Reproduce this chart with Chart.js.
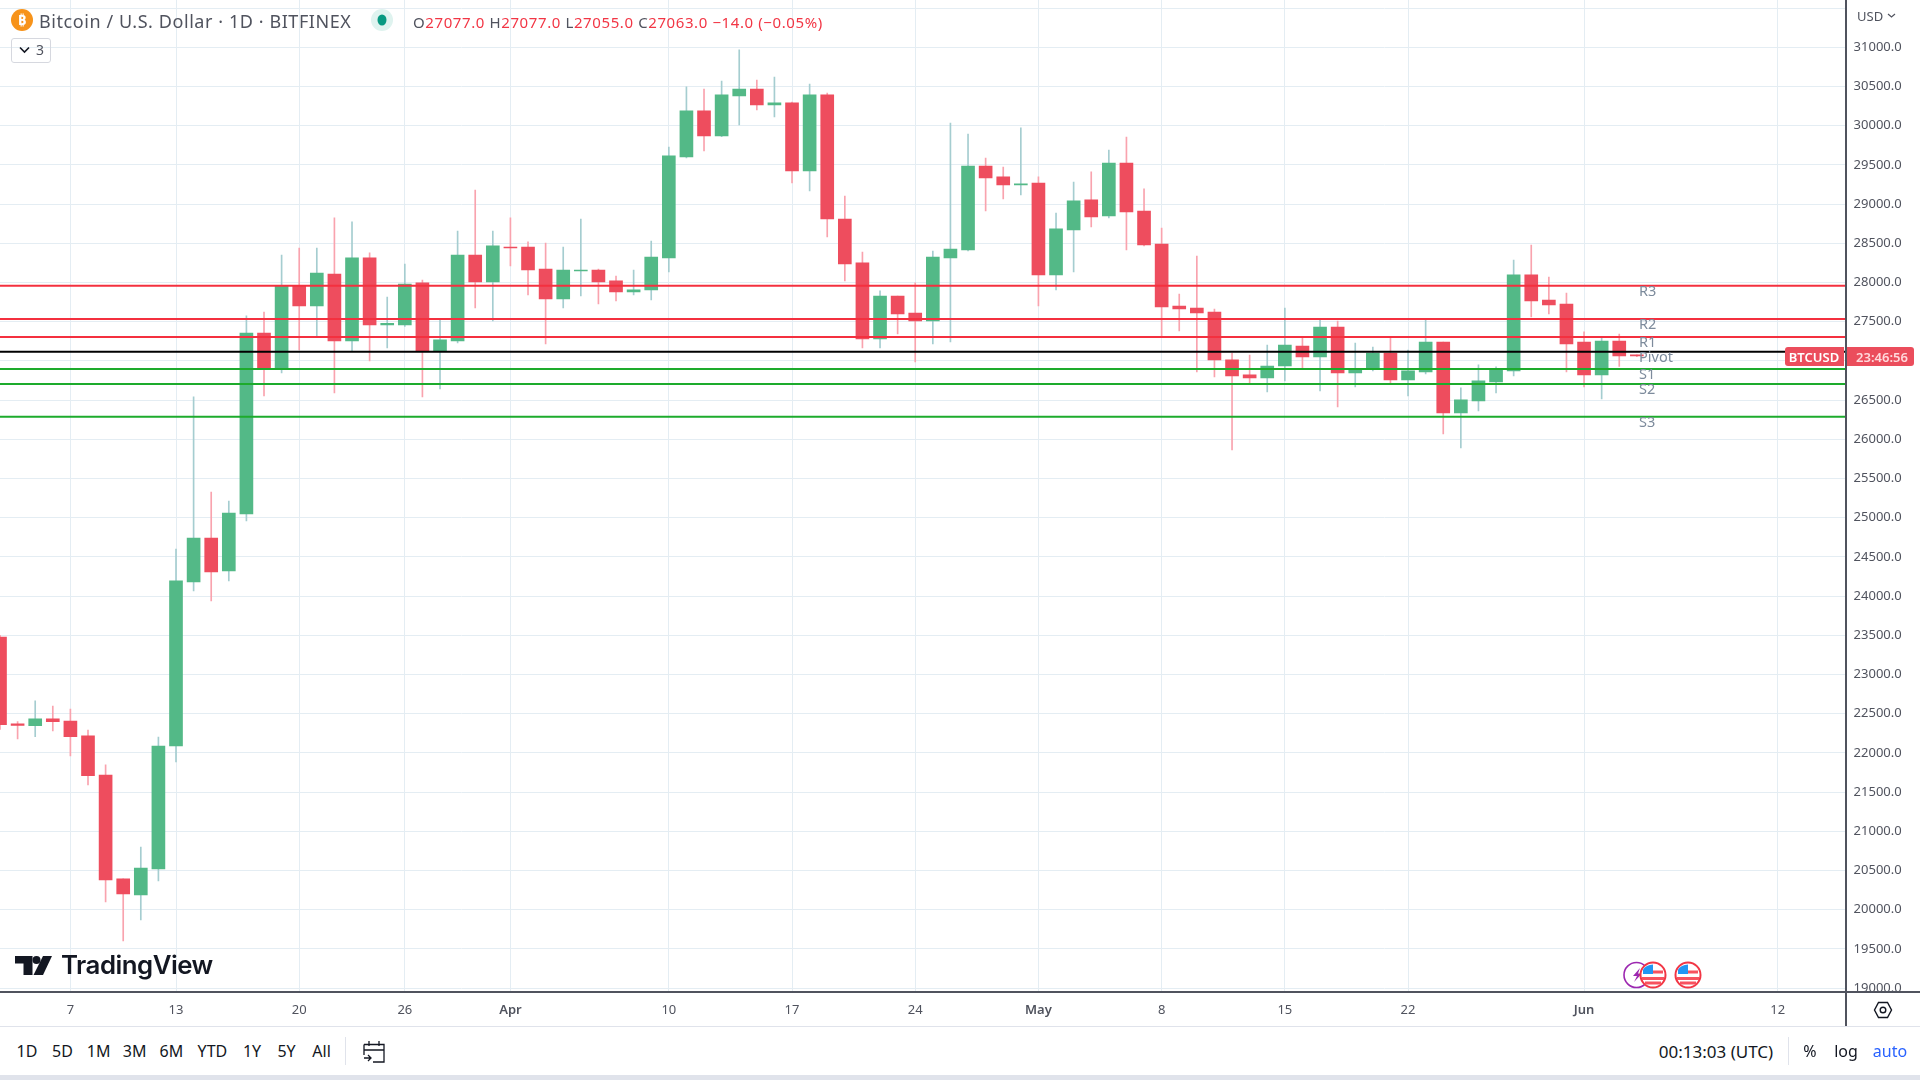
<!DOCTYPE html>
<html>
<head>
<meta charset="utf-8">
<title>Bitcoin / U.S. Dollar</title>
<script src="https://cdn.jsdelivr.net/npm/chart.js@4"></script>
<style>
    html, body { margin: 0; padding: 0; background: #fff; overflow: hidden; }
    body { width: 1920px; height: 1080px; position: relative; font-family: "Noto Sans", sans-serif; }
    #chart { position: absolute; left: 0; top: 0; }
    .t { position: absolute; white-space: nowrap; line-height: 1; }
    .c { transform: translate(-50%, -50%); }
    .v { transform: translateY(-50%); }
    .box { position: absolute; }
    svg { position: absolute; overflow: visible; }
    .red { color: #f23645; }
    .tool { font-size: 16px; color: #131722; top: 1051px; }
</style>
</head>
<body>
<canvas id="chart" width="1920" height="1026"></canvas>

<!-- header -->
<svg style="left:11px;top:9px" width="22" height="22" viewBox="0 0 22 22">
    <circle cx="11" cy="11" r="11" fill="#f7931a"/>
    <text x="11" y="16" text-anchor="middle" font-size="15" font-weight="700" fill="#fff" font-family="Noto Sans">₿</text>
</svg>
<span class="t v" style="left:39px;top:21px;font-size:18px;letter-spacing:0.57px;color:#50535e">Bitcoin / U.S. Dollar · 1D · BITFINEX</span>
<svg style="left:371px;top:9px" width="22" height="22">
    <circle cx="11" cy="11" r="11" fill="#dff3ef"/>
    <ellipse cx="11" cy="11" rx="4.5" ry="5.5" fill="#089981"/>
</svg>
<span class="t v" style="left:413px;top:22px;font-size:15px;letter-spacing:0.6px;color:#50535e">O<span class="red">27077.0</span> H<span class="red">27077.0</span> L<span class="red">27055.0</span> C<span class="red">27063.0 −14.0 (−0.05%)</span></span>
<div class="box" style="left:11px;top:38px;width:38px;height:23px;border:1px solid #d6d8df;border-radius:3px"></div>
<svg style="left:19px;top:46px" width="12" height="8"><path d="M1 1.5L5.5 6L10 1.5" fill="none" stroke="#131722" stroke-width="1.6"/></svg>
<span class="t c" style="left:40px;top:50px;font-size:14px;color:#50535e">3</span>

<!-- price axis header and last price labels -->
<span class="t v" style="left:1857px;top:16px;font-size:13px;color:#50535e">USD</span>
<svg style="left:1887px;top:13px" width="9" height="6"><path d="M1 1L4.5 4L8 1" fill="none" stroke="#50535e" stroke-width="1.2"/></svg>
<div class="box" style="left:1785px;top:347px;width:59px;height:19px;background:#eb4d5c;border-radius:3px 0 0 3px"></div>
<span class="t c" style="left:1814px;top:357px;font-size:13px;font-weight:600;color:#fff">BTCUSD</span>
<div class="box" style="left:1846px;top:347px;width:68px;height:19px;background:#eb4d5c;border-radius:0 3px 3px 0"></div>
<span class="t c" style="left:1882px;top:357px;font-size:13px;font-weight:600;color:#ffd9dc">23:46:56</span>

<!-- watermark logo -->
<svg style="left:15px;top:956px" width="37" height="19" viewBox="0 0 37 19">
    <path d="M0 0H17.5V19H8.5V7.5H0Z" fill="#131722"/>
    <circle cx="21.5" cy="4" r="4" fill="#131722"/>
    <path d="M28 0H37L28 19H18.5Z" fill="#131722"/>
</svg>
<span class="t v" style="left:61px;top:965px;font-family:Inter;font-size:25.8px;font-weight:600;letter-spacing:-0.5px;color:#131722">TradingView</span>

<!-- event markers -->
<svg style="left:1622px;top:961px" width="80" height="28">
    <circle cx="14.5" cy="14" r="12.5" fill="#fff" stroke="#9c27b0" stroke-width="1.6"/>
    <path d="M18 7L11 15H15L12 21L20 12.5H16Z" fill="#9c27b0"/>
    <g id="flag">
        <circle cx="31" cy="14" r="12.5" fill="#fff" stroke="#f23645" stroke-width="2"/>
        <path d="M21 11H41M20 17.5H42M23 22H39" stroke="#f7525f" stroke-width="3" fill="none"/>
        <path d="M21 13V8.5Q24 4 31 3.5V13Z" fill="#2196f3"/>
    </g>
    <g>
        <circle cx="66" cy="14" r="12.5" fill="#fff" stroke="#f23645" stroke-width="2"/>
        <path d="M56 11H76M55 17.5H77M58 22H74" stroke="#f7525f" stroke-width="3" fill="none"/>
        <path d="M56 13V8.5Q59 4 66 3.5V13Z" fill="#2196f3"/>
    </g>
</svg>

<!-- axis frame pieces the scales do not draw -->
<div class="box" style="left:1846px;top:993px;width:74px;height:33px;background:#fff"></div>
<div class="box" style="left:0;top:991px;width:1920px;height:1.5px;background:#50535e"></div>
<div class="box" style="left:1845px;top:0;width:1.5px;height:1026px;background:#50535e"></div>
<svg style="left:1873px;top:1001px" width="20" height="18">
    <path d="M5.5 1.5H14.5L18.5 9L14.5 16.5H5.5L1.5 9Z" fill="none" stroke="#131722" stroke-width="1.4"/>
    <circle cx="10" cy="9" r="2.8" fill="none" stroke="#131722" stroke-width="1.4"/>
</svg>

<!-- bottom toolbar -->
<div class="box" style="left:0;top:1026px;width:1920px;height:1px;background:#e0e3eb"></div>
<div class="box" style="left:0;top:1075px;width:1920px;height:5px;background:#e0e3eb"></div>
<span class="t c tool" style="left:27px">1D</span>
<span class="t c tool" style="left:62.5px">5D</span>
<span class="t c tool" style="left:98.6px">1M</span>
<span class="t c tool" style="left:134.7px">3M</span>
<span class="t c tool" style="left:171.4px">6M</span>
<span class="t c tool" style="left:212.4px">YTD</span>
<span class="t c tool" style="left:252px">1Y</span>
<span class="t c tool" style="left:286.5px">5Y</span>
<span class="t c tool" style="left:321.6px">All</span>
<div class="box" style="left:345px;top:1037px;width:1px;height:28px;background:#e0e3eb"></div>
<svg style="left:362px;top:1038px" width="24" height="26">
    <path d="M2 6.5H22V24H11M2 17V6.5M2 12H22M7 3V8M17 3V8M2 20H9M6 17L9 20L6 23" fill="none" stroke="#131722" stroke-width="1.3"/>
</svg>
<span class="t c tool" style="left:1716px;font-size:17px">00:13:03 (UTC)</span>
<div class="box" style="left:1788px;top:1037px;width:1px;height:28px;background:#e0e3eb"></div>
<span class="t c tool" style="left:1810px">%</span>
<span class="t c tool" style="left:1846px">log</span>
<span class="t c tool" style="left:1890px;color:#2962ff">auto</span>

<script>
// Daily candles, Bitcoin / U.S. Dollar
const categories = [
    'Mar 3', 'Mar 4', 'Mar 5', 'Mar 6', 'Mar 7', 'Mar 8', 'Mar 9', 'Mar 10', 'Mar 11', 'Mar 12',
    'Mar 13', 'Mar 14', 'Mar 15', 'Mar 16', 'Mar 17', 'Mar 18', 'Mar 19', 'Mar 20', 'Mar 21', 'Mar 22',
    'Mar 23', 'Mar 24', 'Mar 25', 'Mar 26', 'Mar 27', 'Mar 28', 'Mar 29', 'Mar 30', 'Mar 31', 'Apr 1',
    'Apr 2', 'Apr 3', 'Apr 4', 'Apr 5', 'Apr 6', 'Apr 7', 'Apr 8', 'Apr 9', 'Apr 10', 'Apr 11',
    'Apr 12', 'Apr 13', 'Apr 14', 'Apr 15', 'Apr 16', 'Apr 17', 'Apr 18', 'Apr 19', 'Apr 20', 'Apr 21',
    'Apr 22', 'Apr 23', 'Apr 24', 'Apr 25', 'Apr 26', 'Apr 27', 'Apr 28', 'Apr 29', 'Apr 30', 'May 1',
    'May 2', 'May 3', 'May 4', 'May 5', 'May 6', 'May 7', 'May 8', 'May 9', 'May 10', 'May 11',
    'May 12', 'May 13', 'May 14', 'May 15', 'May 16', 'May 17', 'May 18', 'May 19', 'May 20', 'May 21',
    'May 22', 'May 23', 'May 24', 'May 25', 'May 26', 'May 27', 'May 28', 'May 29', 'May 30', 'May 31',
    'Jun 1', 'Jun 2', 'Jun 3', 'Jun 4'
];
const opens = [
    23478, 22370, 22346, 22435, 22407, 22216, 21718, 20392, 20188, 20519,
    22090, 24180, 24741, 24320, 25047, 27356, 26909, 27955, 27700, 28108,
    27254, 28313, 27458, 27458, 27994, 27126, 27254, 28351, 28007, 28453,
    28453, 28172, 27789, 28146, 28159, 28020, 27879, 27904, 28313, 29601,
    30188, 29869, 30379, 30468, 30264, 30290, 29422, 30392, 28810, 28249,
    27279, 27828, 27611, 27509, 28313, 28414, 29486, 29346, 29244, 29269,
    28096, 28670, 29053, 28848, 29524, 28912, 28491, 27700, 27675, 27624,
    27012, 26821, 26783, 26935, 27190, 27049, 27432, 26846, 26897, 27101,
    26756, 26859, 27241, 26335, 26489, 26731, 26872, 28096, 27777, 27726,
    27241, 26821, 27254, 27077
];
const highs = [
    23500, 22400, 22665, 22598, 22560, 22292, 21846, 20392, 20800, 22203,
    24601, 26540, 25328, 25213, 27573, 27624, 28351, 28440, 28440, 28823,
    28772, 28377, 27815, 28236, 28032, 27522, 28657, 29180, 28657, 28823,
    28517, 28504, 28453, 28810, 28172, 28083, 28159, 28529, 29728, 30494,
    30468, 30570, 30966, 30583, 30621, 30300, 30532, 30417, 29103, 28389,
    27892, 27828, 27994, 28402, 30034, 29894, 29588, 29473, 29971, 29346,
    28886, 29282, 29410, 29690, 29856, 29193, 28695, 27853, 28338, 27662,
    27101, 27075, 27203, 27675, 27292, 27522, 27509, 27228, 27177, 27292,
    27139, 27522, 27241, 26655, 26948, 26923, 28287, 28478, 28070, 27866,
    27369, 27292, 27343, 27077
];
const lows = [
    22300, 22177, 22207, 22280, 21960, 21590, 20099, 19601, 19869, 20366,
    21884, 24065, 23938, 24193, 24958, 26552, 26846, 27139, 27318, 26590,
    27126, 26998, 27165, 27440, 26540, 26641, 27230, 27675, 27509, 28210,
    27841, 27216, 27675, 27828, 27726, 27764, 27841, 27777, 28134, 29590,
    29677, 29860, 30009, 30200, 30111, 29269, 29167, 28580, 28019, 27165,
    27165, 27343, 26986, 27216, 27242, 28402, 28912, 29065, 29116, 27700,
    27904, 28134, 28708, 28825, 28414, 28465, 27318, 27381, 26858, 26795,
    25864, 26705, 26603, 26744, 26909, 26616, 26412, 26667, 26872, 26718,
    26552, 26834, 26068, 25890, 26361, 26590, 26808, 27560, 27598, 26859,
    26667, 26514, 26928, 27055
];
const closes = [
    22360, 22350, 22435, 22398, 22207, 21709, 20379, 20200, 20532, 22088,
    24193, 24741, 24307, 25060, 27356, 26909, 27955, 27700, 28121, 27254,
    28313, 27458, 27480, 27981, 27126, 27267, 28351, 28007, 28466, 28440,
    28159, 27789, 28159, 28159, 28007, 27879, 27905, 28325, 29614, 30188,
    29869, 30392, 30468, 30264, 30290, 29422, 30392, 28810, 28236, 27279,
    27828, 27598, 27509, 28325, 28427, 29486, 29333, 29244, 29257, 28096,
    28683, 29040, 28835, 29524, 28900, 28478, 27688, 27662, 27611, 27012,
    26808, 26783, 26935, 27203, 27049, 27432, 26846, 26897, 27101, 26756,
    26872, 27241, 26335, 26502, 26744, 26897, 28096, 27764, 27713, 27216,
    26821, 27254, 27062, 27063
];

// Pivot point levels
const pivotNames = ['R3', 'R2', 'R1', 'Pivot', 'S1', 'S2', 'S3'];
const pivotLevels = [27959, 27534, 27305, 27117, 26897, 26705, 26288];

// Axis ticks
const priceTicks = [
    31500, 31000, 30500, 30000, 29500, 29000, 28500, 28000, 27500, 27000, 26500, 26000, 25500,
    25000, 24500, 24000, 23500, 23000, 22500, 22000, 21500, 21000, 20500, 20000, 19500, 19000
];
const dayTicks = [4, 10, 17, 23, 29, 38, 45, 52, 59, 66, 73, 80, 90, 101];
const dayLabels = ['7', '13', '20', '26', 'Apr', '10', '17', '24', 'May', '8', '15', '22', 'Jun', '12'];
const monthLabels = ['Apr', 'May', 'Jun'];

const UP = '#53b987';
const DOWN = '#ee4d5e';
const UP_WICK = '#a5cdd0';
const DOWN_WICK = '#f9a3ae';
const GRID = '#e4edf3';
const TEXT = '#50535e';
const FONT = '"Noto Sans", sans-serif';

const isUp = i => closes[i] >= opens[i];

// R lines red, pivot black, S lines green
function pivotColor(name) {
    if (name === 'Pivot') return '#000000';
    return name[0] === 'R' ? '#f4303f' : '#1dab2c';
}

const pivotDatasets = pivotLevels.map((level, i) => ({
    type: 'line',
    order: 0,
    data: [{ x: 0, y: level }, { x: 104.86, y: level }],
    borderColor: pivotColor(pivotNames[i]),
    borderWidth: 1.9,
    pointRadius: 0
}));

const bodyDataset = {
    type: 'bar',
    order: 1,
    grouped: false,
    barThickness: 13,
    data: categories.map((d, i) => ({ x: i, y: [opens[i], closes[i]] })),
    backgroundColor: categories.map((d, i) => isUp(i) ? UP : DOWN)
};

const wickDataset = {
    type: 'bar',
    order: 2,
    grouped: false,
    barThickness: 1,
    data: categories.map((d, i) => ({ x: i, y: [lows[i], highs[i]] })),
    backgroundColor: categories.map((d, i) => isUp(i) ? UP_WICK : DOWN_WICK)
};

// Names of the pivot levels, just under each line
const pivotLabels = {
    id: 'pivotLabels',
    afterDatasetsDraw(chart) {
        const { ctx, scales } = chart;
        ctx.save();
        ctx.font = '14.5px ' + FONT;
        ctx.fillStyle = '#7d8b9c';
        ctx.textBaseline = 'middle';
        pivotNames.forEach((name, i) => {
            ctx.fillText(name, 1639, scales.y.getPixelForValue(pivotLevels[i]) + 6);
        });
        ctx.restore();
    }
};

new Chart(document.getElementById('chart'), {
    data: { datasets: [...pivotDatasets, bodyDataset, wickDataset] },
    plugins: [pivotLabels],
    options: {
        responsive: false,
        animation: false,
        devicePixelRatio: 1,
        layout: { padding: 0 },
        plugins: { legend: { display: false }, tooltip: { enabled: false } },
        scales: {
            x: {
                type: 'linear',
                min: 0,
                max: 104.86,
                offset: false,
                // bar charts default to offset grid lines, which would land between the ticks
                grid: { color: GRID, drawTicks: false, offset: false },
                border: { display: false },
                afterBuildTicks: scale => { scale.ticks = dayTicks.map(v => ({ value: v })); },
                afterFit: scale => {
                    scale.height = 34;
                    scale.paddingLeft = 0;
                    scale.paddingRight = 0;
                },
                ticks: {
                    autoSkip: false,
                    maxRotation: 0,
                    padding: 10,
                    color: TEXT,
                    font: ctx => {
                        const label = ctx.tick ? dayLabels[dayTicks.indexOf(ctx.tick.value)] : '';
                        return { family: FONT, size: 13, weight: monthLabels.includes(label) ? '600' : '400' };
                    },
                    callback: value => dayLabels[dayTicks.indexOf(value)]
                }
            },
            y: {
                position: 'right',
                min: 18950,
                max: 31603,
                grid: { color: GRID, drawTicks: false },
                border: { display: false },
                afterBuildTicks: scale => { scale.ticks = priceTicks.map(v => ({ value: v })); },
                afterFit: scale => {
                    scale.width = 74.4;
                    scale.paddingTop = 0;
                    scale.paddingBottom = 0;
                },
                ticks: {
                    autoSkip: false,
                    padding: 8,
                    color: TEXT,
                    font: { family: FONT, size: 13 },
                    callback: value => value > 31000 ? '' : value.toFixed(1)
                }
            }
        }
    }
});
</script>
</body>
</html>
